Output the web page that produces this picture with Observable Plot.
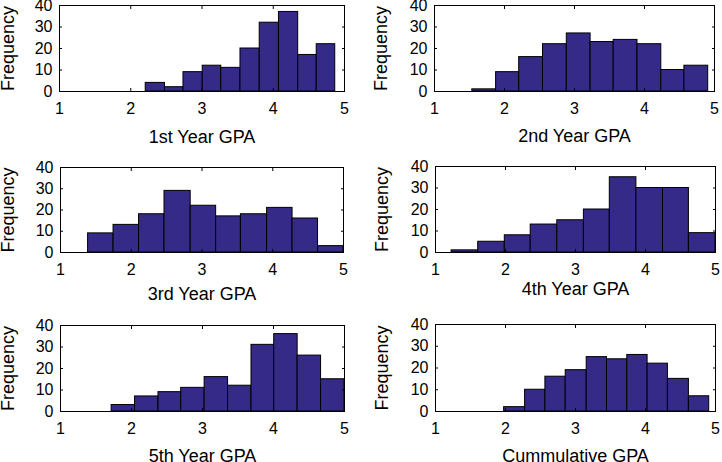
<!DOCTYPE html>
<html><head><meta charset="utf-8">
<script src="https://cdn.jsdelivr.net/npm/d3@7"></script>
<script src="https://cdn.jsdelivr.net/npm/@observablehq/plot@0.6"></script>
<style>
body{margin:0;background:#fff;}
#wrap{position:relative;width:722px;height:462px;background:#fff;overflow:hidden;}
#wrap > svg{position:absolute;overflow:visible;}
</style></head><body><div id="wrap"></div>
<script>
// ---- data ----
const titles = ["1st Year GPA","2nd Year GPA","3rd Year GPA","4th Year GPA","5th Year GPA","Cummulative GPA"];
const xTicks = [1,2,3,4,5];
const yTicks = [0,10,20,30,40];

const edges1 = [2.21,2.48,2.74,3.01,3.27,3.54,3.81,4.08,4.35,4.61,4.87];
const counts1 = [4,2,9,12,11,20,32,37,17,22];
const edges2 = [1.54,1.88,2.21,2.55,2.89,3.23,3.56,3.90,4.24,4.57,4.91];
const counts2 = [1,9,16,22,27,23,24,22,10,12];
const edges3 = [1.39,1.75,2.11,2.47,2.84,3.20,3.55,3.92,4.28,4.64,5.00];
const counts3 = [9,13,18,29,22,17,18,21,16,3];
const edges4 = [1.23,1.61,1.99,2.36,2.74,3.12,3.49,3.87,4.25,4.62,5.00];
const counts4 = [1,5,8,13,15,20,35,30,30,9];
const edges5 = [1.72,2.05,2.38,2.70,3.03,3.36,3.69,4.01,4.34,4.67,5.00];
const counts5 = [3,7,9,11,16,12,31,36,26,15];
const edges6 = [1.98,2.28,2.57,2.86,3.16,3.45,3.74,4.03,4.32,4.62,4.91];
const counts6 = [2,10,16,19,25,24,26,22,15,7];

const allEdges = [edges1,edges2,edges3,edges4,edges5,edges6];
const allCounts = [counts1,counts2,counts3,counts4,counts5,counts6];

// ---- layout (positions only) ----
const layout = [
  {left:0,   top:0,   ml:59, mr:17, mt:5,  mb:63, labDy:46, freqDx:-51},
  {left:361, top:0,   ml:73, mr:8,  mt:5,  mb:63, labDy:45, freqDx:-53},
  {left:0,   top:154, ml:60, mr:18, mt:13, mb:56, labDy:42, freqDx:-52},
  {left:361, top:154, ml:74, mr:7,  mt:12, mb:56, labDy:37, freqDx:-53},
  {left:0,   top:308, ml:60, mr:17, mt:17, mb:51, labDy:45, freqDx:-52},
  {left:361, top:308, ml:74, mr:7,  mt:16, mb:51, labDy:45, freqDx:-53}
];

const FILL = "#352A87";
const FONT = "'Liberation Sans', Arial, Helvetica, sans-serif";
const wrap = document.getElementById("wrap");
const fmt = d3.format("d");

titles.forEach((title, i) => {
  const e = allEdges[i], c = allCounts[i], L = layout[i];
  const bins = c.map((v, k) => ({x1: e[k], x2: e[k+1], y: v}));
  const chart = Plot.plot({
    width: 361, height: 154,
    marginLeft: L.ml, marginRight: L.mr, marginTop: L.mt, marginBottom: L.mb,
    style: {fontFamily: FONT, fontSize: "16px", color: "#000", background: "transparent", overflow: "visible"},
    x: {domain: [1, 5]},
    y: {domain: [0, 40]},
    marks: [
      Plot.rectY(bins, {x1: "x1", x2: "x2", y: "y", fill: FILL, stroke: "#000", strokeWidth: 1}),
      Plot.frame({stroke: "#000", strokeWidth: 1}),
      Plot.axisX({ticks: xTicks, tickFormat: fmt, anchor: "bottom", tickSize: -3, tickPadding: 14, label: null, fontSize: 16}),
      Plot.axisX({ticks: xTicks, anchor: "top", tickSize: -3, tickFormat: () => "", label: null}),
      Plot.axisY({ticks: yTicks, tickFormat: fmt, anchor: "left", tickSize: -3, tickPadding: 10, label: null, fontSize: 16}),
      Plot.axisY({ticks: yTicks, anchor: "right", tickSize: -3, tickFormat: () => "", label: null}),
      Plot.text([title], {frameAnchor: "bottom", lineAnchor: "middle", textAnchor: "middle", dy: L.labDy, fontSize: 18, fill: "#000"}),
      Plot.text(["Frequency"], {frameAnchor: "left", lineAnchor: "middle", textAnchor: "middle", dx: L.freqDx, rotate: -90, fontSize: 18, fill: "#000"})
    ]
  });
  chart.style.left = L.left + "px";
  chart.style.top = L.top + "px";
  wrap.appendChild(chart);
});
</script>
</body></html>
